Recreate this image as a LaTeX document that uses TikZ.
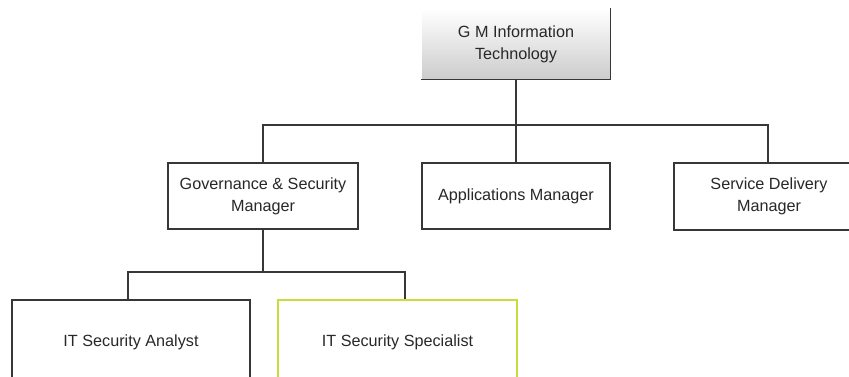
\documentclass[tikz,border=0pt]{standalone}
\usepackage{fontspec}
\setmainfont{Liberation Sans}
\definecolor{ln}{RGB}{55,55,55}
\definecolor{tx}{RGB}{40,40,40}
\definecolor{yg}{RGB}{200,220,60}
\begin{document}
\begin{tikzpicture}[x=1pt,y=-1pt,
  box/.style={draw=ln,line width=1.3pt,fill=white,rectangle,inner sep=0pt,align=center,text=tx,font=\fontsize{16.2}{22}\selectfont},
  conn/.style={draw=ln,line width=1.3pt}]
\useasboundingbox (0,0) rectangle (849,376);
\clip (0,0) rectangle (849,376);
\fill[white] (0,0) rectangle (849,376);
% top node
\node[box,draw=none,top color=white,bottom color=black!20,minimum width=188pt,minimum height=70pt] (top) at (516,44) {G M Information\\Technology};
\draw[conn] (top.north east) -- (top.south east) -- (top.south west);
% managers
\node[box,minimum width=190pt,minimum height=66pt] (gov) at (263,196) {Governance \& Security\\Manager};
\node[box,minimum width=188pt,minimum height=66pt] (app) at (516,196) {Applications Manager};
\node[box,minimum width=190pt,minimum height=67pt] (svc) at (769,196.5) {Service Delivery\\Manager};
% staff
\node[box,minimum width=238pt,minimum height=84pt] (ana) at (131,342) {IT Security Analyst};
\node[box,draw=yg,minimum width=239pt,minimum height=84pt] (spe) at (397.5,342) {IT Security Specialist};
% connectors
\coordinate (j1) at (516,125);
\coordinate (j2) at (263,272);
\draw[conn] (top.south) -- (j1);
\draw[conn] (j1) -| (gov.north);
\draw[conn] (j1) -- (app.north);
\draw[conn] (j1) -| ([xshift=-1pt]svc.north);
\draw[conn] (gov.south) -- (j2);
\draw[conn] (j2) -| ([xshift=-3pt]ana.north);
\draw[conn] (j2) -| ([xshift=7.5pt]spe.north);
\end{tikzpicture}
\end{document}
